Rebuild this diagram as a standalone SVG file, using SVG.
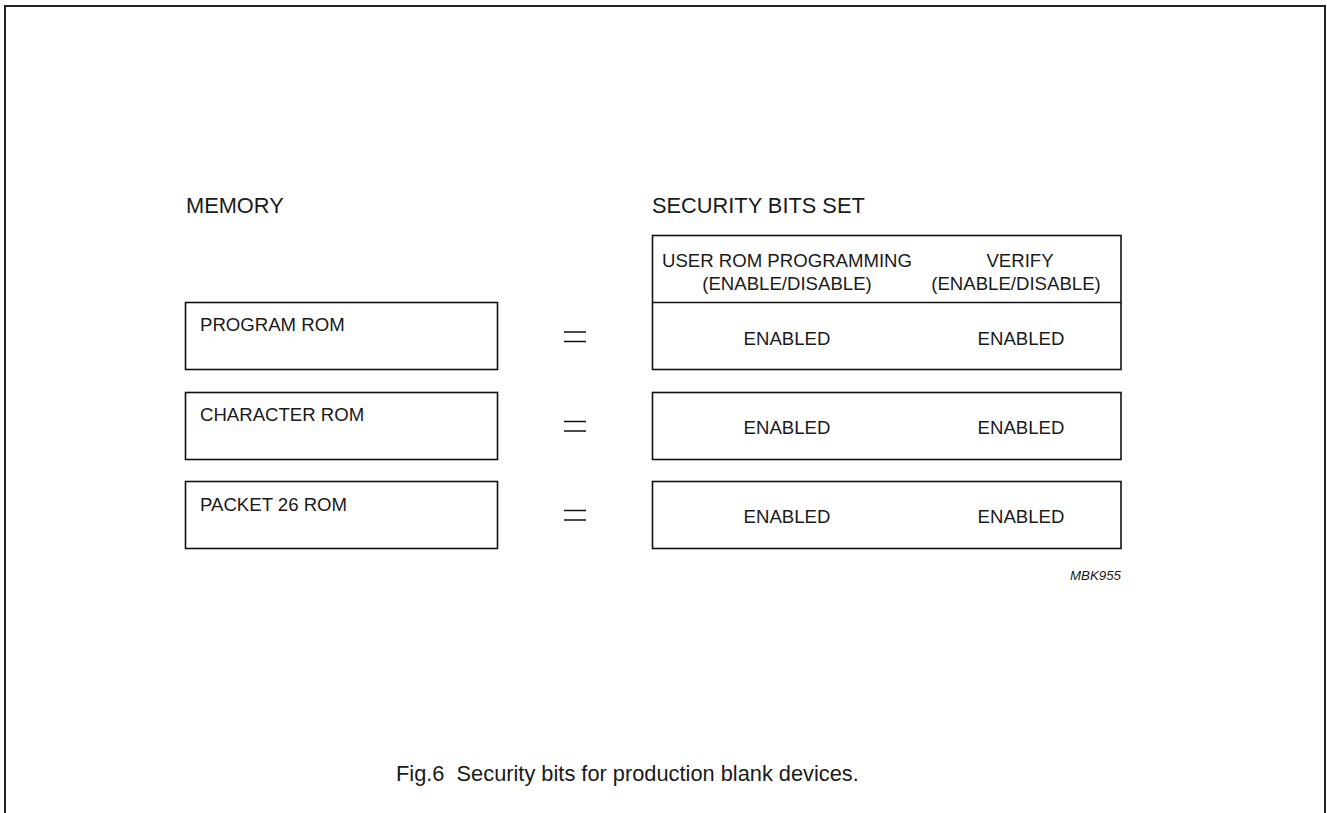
<svg xmlns="http://www.w3.org/2000/svg" width="1327" height="813" viewBox="0 0 1327 813">
<style>
text{font-family:"Liberation Sans",Arial,sans-serif;fill:#1a1a1a}
.t{font-size:21.8px}
.b{font-size:18.6px}
.c{text-anchor:middle}
.box{fill:none;stroke:#111;stroke-width:1.6}
.eq{stroke:#111;stroke-width:1.5}
</style>
<rect width="1327" height="813" fill="#fff"/>
<path d="M5,813 V6 H1325 V813" fill="none" stroke="#222" stroke-width="2"/>
<text class="t" x="186" y="213">MEMORY</text>
<text class="t" x="652" y="213">SECURITY BITS SET</text>
<g id="header">
<rect class="box" x="652.5" y="235.5" width="468.5" height="134"/>
<line class="box" x1="652.5" y1="302.5" x2="1121" y2="302.5"/>
<text class="b c" x="787" y="267">USER ROM PROGRAMMING</text>
<text class="b c" x="787" y="290">(ENABLE/DISABLE)</text>
<text class="b c" x="1020" y="267">VERIFY</text>
<text class="b c" x="1016" y="290">(ENABLE/DISABLE)</text>
</g>
<g id="program-rom">
<rect class="box" x="185.5" y="302.5" width="312" height="67"/>
<text class="b" x="200" y="331">PROGRAM ROM</text>
</g>
<g id="program-bits">
<text class="b c" x="787" y="345">ENABLED</text>
<text class="b c" x="1021" y="345">ENABLED</text>
</g>
<g id="character-rom">
<rect class="box" x="185.5" y="392.5" width="312" height="67"/>
<text class="b" x="200" y="421">CHARACTER ROM</text>
</g>
<g id="character-bits">
<rect class="box" x="652.5" y="392.5" width="468.5" height="67"/>
<text class="b c" x="787" y="434">ENABLED</text>
<text class="b c" x="1021" y="434">ENABLED</text>
</g>
<g id="packet-rom">
<rect class="box" x="185.5" y="481.5" width="312" height="67"/>
<text class="b" x="200" y="511">PACKET 26 ROM</text>
</g>
<g id="packet-bits">
<rect class="box" x="652.5" y="481.5" width="468.5" height="67"/>
<text class="b c" x="787" y="523">ENABLED</text>
<text class="b c" x="1021" y="523">ENABLED</text>
</g>
<g id="connectors">
<path class="eq" d="M564,332 H586 M564,341.5 H586"/>
<path class="eq" d="M564,421.5 H586 M564,431 H586"/>
<path class="eq" d="M564,510.5 H586 M564,520 H586"/>
</g>
<text x="1121" y="580" font-size="13.3" font-style="italic" text-anchor="end">MBK955</text>
<text class="t" x="396" y="781" xml:space="preserve" style="white-space:pre">Fig.6  Security bits for production blank devices.</text>
</svg>
